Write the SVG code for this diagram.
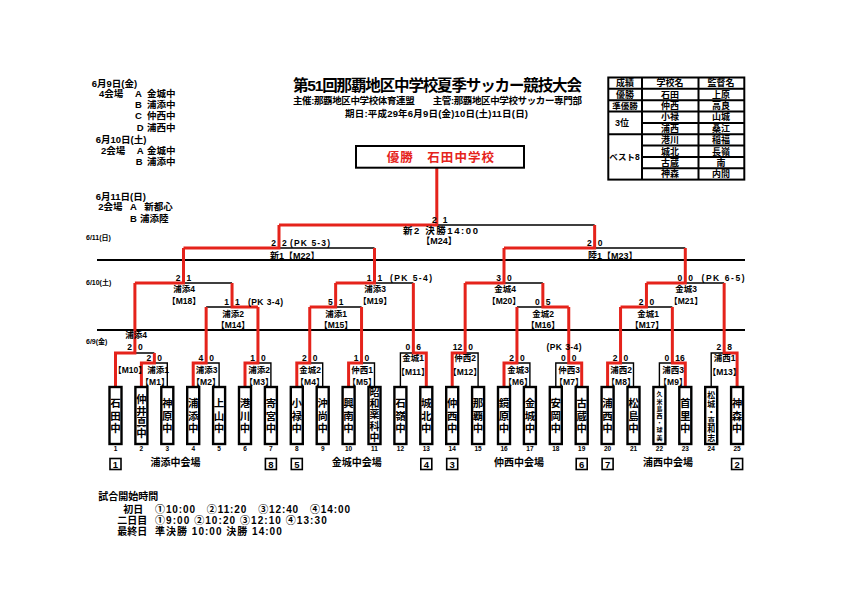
<svg xmlns="http://www.w3.org/2000/svg" width="842" height="595" viewBox="0 0 842 595">
<style>
.t{font-family:"Liberation Sans","Noto Sans CJK JP",sans-serif;font-weight:bold;fill:#000}
.k{fill:none;stroke:#000;stroke-width:1.4}
.r{fill:none;stroke:#e5231b;stroke-width:3}
.dl{stroke:#000;stroke-width:1.8}
.tb{fill:#fff;stroke:#000;stroke-width:2.4}
.vb{fill:#fff;stroke:#000;stroke-width:1.6}
.sc{font-size:8.5px}
.e{text-anchor:end}
.m{text-anchor:middle}
.lb{font-size:8.5px;text-anchor:middle}
.tn{font-size:10.5px;text-anchor:middle}
.tn5{font-size:10px;text-anchor:middle}
.tn6{font-size:8px;text-anchor:middle}
.tn7{font-size:6px;text-anchor:middle}
.ix{font-size:6.5px;text-anchor:middle}
.vn{font-size:9.5px;text-anchor:middle}
.dt{font-size:7px}
.hd{font-size:9.5px}
.tt{font-size:9px;text-anchor:middle}
.tl{fill:none;stroke:#000;stroke-width:2}
</style>
<rect width="842" height="595" fill="#fff"/>

<g id="title" class="t">
<text x="437.4" y="90.5" class="m" style="font-size:15.5px" textLength="289">第51回那覇地区中学校夏季サッカー競技大会</text>
<text x="437.4" y="104" class="m" style="font-size:9.5px" textLength="289">主催:那覇地区中学校体育連盟　　主管:那覇地区中学校サッカー専門部</text>
<text x="436.5" y="117" class="m" style="font-size:9.5px" textLength="183">期日:平成29年6月9日(金)10日(土)11日(日)</text>
</g>

<g id="schedule" class="t hd">
<text x="91.7" y="86.6">6月9日(金)</text>
<text x="99" y="97.3">4会場</text><text x="135" y="97.3">A</text><text x="175.5" y="97.3" class="e">金城中</text>
<text x="135" y="107.6">B</text><text x="175.5" y="107.6" class="e">浦添中</text>
<text x="135" y="119">C</text><text x="175.5" y="119" class="e">仲西中</text>
<text x="136.7" y="130.6">D</text><text x="175.5" y="130.6" class="e">浦西中</text>
<text x="95.7" y="143.3">6月10日(土)</text>
<text x="101" y="154">2会場</text><text x="136.7" y="154">A</text><text x="175.5" y="154" class="e">金城中</text>
<text x="135.7" y="165">B</text><text x="175.5" y="165" class="e">浦添中</text>
<text x="95.7" y="200">6月11日(日)</text>
<text x="98.3" y="210">2会場</text><text x="130" y="210">A</text><text x="144.3" y="210">新都心</text>
<text x="130" y="222.3">B</text><text x="140" y="222.3">浦添陸</text>
</g>

<g id="results" class="t">
<rect class="tl" x="608.3" y="77.5" width="136" height="102.1"/>
<path class="tl" d="M642,77.5V179.6M698.5,77.5V179.6M608.3,88.8H744.3M608.3,100.2H744.3M608.3,111.5H744.3M608.3,134.2H744.3M642,122.9H744.3M642,145.6H744.3M642,156.9H744.3M642,168.3H744.3"/>
<text class="tt" x="625" y="86.4">成績</text><text class="tt" x="670" y="86.4">学校名</text><text class="tt" x="721" y="86.4">監督名</text>
<text class="tt" x="625" y="97.7">優勝</text><text class="tt" x="670" y="97.7">石田</text><text class="tt" x="721" y="97.7">上原</text>
<text class="tt" x="625" y="109" style="font-size:8.5px">準優勝</text><text class="tt" x="670" y="109">仲西</text><text class="tt" x="721" y="109">高良</text>
<text class="tt" x="622" y="126">3位</text><text class="tt" x="670" y="120.4">小禄</text><text class="tt" x="721" y="120.4">山城</text>
<text class="tt" x="670" y="131.8">浦西</text><text class="tt" x="721" y="131.8">桑江</text>
<text class="tt" x="624.5" y="160" style="font-size:8.5px">ベスト8</text>
<text class="tt" x="670" y="143.1">港川</text><text class="tt" x="721" y="143.1">稲福</text>
<text class="tt" x="670" y="154.5">城北</text><text class="tt" x="721" y="154.5">長嶺</text>
<text class="tt" x="670" y="165.8">古蔵</text><text class="tt" x="721" y="165.8">南</text>
<text class="tt" x="670" y="177.2">神森</text><text class="tt" x="721" y="177.2">内間</text>
</g>

<g id="dates" class="t dt">
<line class="dl" x1="97" y1="260" x2="745" y2="260"/>
<line class="dl" x1="97" y1="330" x2="745" y2="330"/>
<text x="86" y="239.5">6/11(日)</text>
<text x="86" y="284.5">6/10(土)</text>
<text x="86" y="343.5">6/9(金)</text>
</g>

<g id="connectors">
<path class="k" d="M167.3,386V363H154.35M154.35,353H134.9M219.1,386V363H206.15M270.9,386V363H257.95M206.15,307H232.05M232.05,283H183.5M322.7,386V363H309.75M374.5,386V363H361.55M361.55,307H335.65M400.4,386V353H413.35M413.35,283H374.5M374.5,248H279M478.1,386V353H465.15M529.9,386V363H516.95M555.8,386V363H568.75M516.95,307H542.85M542.85,283H504M633.5,386V363H620.55M659.4,386V363H672.35M672.35,307H646.45M711.2,386V353H724.15M724.15,283H685.3M685.3,248H594.65M594.65,225H436.8"/>
<path class="r" d="M141.4,386V363H154.35V353M115.5,386V353H134.9V283M193.2,386V363H206.15V307M245,386V363H257.95V307M257.95,307H232.05V283M134.9,283H183.5V248M296.8,386V363H309.75V307M348.6,386V363H361.55V307M309.75,307H335.65V283M426.3,386V353H413.35V283M335.65,283H374.5V248M183.5,248H279V225M452.2,386V353H465.15V283M504,386V363H516.95V307M581.7,386V363H568.75V307M568.75,307H542.85V283M465.15,283H504V248M607.6,386V363H620.55V307M685.3,386V363H672.35V307M620.55,307H646.45V283M737.1,386V353H724.15V283M646.45,283H685.3V248M504,248H594.65V225M279,225H436.8V168"/>
</g>

<g id="champion" class="t">
<rect x="356" y="146" width="168" height="21.7" fill="#fff" stroke="#000" stroke-width="2"/>
<text x="386.7" y="161.5" style="font-size:12.5px;fill:#e5231b" textLength="107.3">優勝　石田中学校</text>
</g>

<g class="t">
<g id="m1"><text class="sc e" x="151.35" y="360.5">2</text><text class="sc" x="157.35" y="360.5">0</text><text class="lb" x="158" y="373">浦添1</text><text class="lb" x="155" y="384.5">【M1】</text></g>
<g id="m2"><text class="sc e" x="203.15" y="360.5">4</text><text class="sc" x="209.15" y="360.5">0</text><text class="lb" x="206.5" y="373">浦添3</text><text class="lb" x="206" y="384.5">【M2】</text></g>
<g id="m3"><text class="sc e" x="254.95" y="360.5">1</text><text class="sc" x="260.95" y="360.5">0</text><text class="lb" x="259" y="373">浦添2</text><text class="lb" x="259" y="384.5">【M3】</text></g>
<g id="m4"><text class="sc e" x="306.75" y="360.5">2</text><text class="sc" x="312.75" y="360.5">0</text><text class="lb" x="310" y="373">金城2</text><text class="lb" x="310" y="384.5">【M4】</text></g>
<g id="m5"><text class="sc e" x="358.55" y="360.5">1</text><text class="sc" x="364.55" y="360.5">0</text><text class="lb" x="362" y="373">仲西1</text><text class="lb" x="362" y="384.5">【M5】</text></g>
<g id="m6"><text class="sc e" x="513.95" y="360.5">2</text><text class="sc" x="519.95" y="360.5">0</text><text class="lb" x="518" y="373">金城3</text><text class="lb" x="518" y="384.5">【M6】</text></g>
<g id="m7"><text class="sc e" x="565.75" y="360.5">0</text><text class="sc" x="571.75" y="360.5">0</text><text class="sc m" x="564" y="349.5" textLength="35">(PK 3-4)</text><text class="lb" x="569" y="373">仲西3</text><text class="lb" x="569" y="384.5">【M7】</text></g>
<g id="m8"><text class="sc e" x="617.55" y="360.5">2</text><text class="sc" x="623.55" y="360.5">0</text><text class="lb" x="621" y="373">浦西2</text><text class="lb" x="621" y="384.5">【M8】</text></g>
<g id="m9"><text class="sc e" x="669.35" y="360.5">0</text><text class="sc" x="675.35" y="360.5">16</text><text class="lb" x="673" y="373">浦西3</text><text class="lb" x="673" y="384.5">【M9】</text></g>
<g id="m10"><text class="sc e" x="131.9" y="350">2</text><text class="sc" x="137.9" y="350">0</text><text class="lb" x="136" y="337.5">浦添4</text><text class="lb" x="130" y="373">【M10】</text></g>
<g id="m11"><text class="sc e" x="410.35" y="350">0</text><text class="sc" x="416.35" y="350">6</text><text class="lb" x="413" y="360.5">金城1</text><text class="lb" x="413" y="375">【M11】</text></g>
<g id="m12"><text class="sc e" x="462.15" y="350">12</text><text class="sc" x="468.15" y="350">0</text><text class="lb" x="465" y="360.5">仲西2</text><text class="lb" x="465" y="375">【M12】</text></g>
<g id="m13"><text class="sc e" x="721.15" y="350">2</text><text class="sc" x="727.15" y="350">8</text><text class="lb" x="724.5" y="360.5">浦西1</text><text class="lb" x="724.5" y="375">【M13】</text></g>
<g id="m14"><text class="sc e" x="229.05" y="304.5">1</text><text class="sc" x="235.05" y="304.5">1</text><text class="sc" x="248" y="304.5" textLength="35">(PK 3-4)</text><text class="lb" x="233" y="316.5">浦添2</text><text class="lb" x="233" y="327.5">【M14】</text></g>
<g id="m15"><text class="sc e" x="332.65" y="304.5">5</text><text class="sc" x="338.65" y="304.5">1</text><text class="lb" x="336" y="316.5">浦添1</text><text class="lb" x="336" y="327.5">【M15】</text></g>
<g id="m16"><text class="sc e" x="539.85" y="304.5">0</text><text class="sc" x="545.85" y="304.5">5</text><text class="lb" x="543" y="316.5">金城2</text><text class="lb" x="543" y="327.5">【M16】</text></g>
<g id="m17"><text class="sc e" x="643.45" y="304.5">2</text><text class="sc" x="649.45" y="304.5">0</text><text class="lb" x="648" y="316.5">金城1</text><text class="lb" x="647" y="327.5">【M17】</text></g>
<g id="m18"><text class="sc e" x="180.5" y="280.5">2</text><text class="sc" x="186.5" y="280.5">1</text><text class="lb" x="184" y="291.5">浦添4</text><text class="lb" x="184" y="304">【M18】</text></g>
<g id="m19"><text class="sc e" x="371.5" y="280.5">1</text><text class="sc" x="377.5" y="280.5">1</text><text class="sc" x="390" y="280.5" textLength="42">(PK 5-4)</text><text class="lb" x="375" y="291.5">浦添3</text><text class="lb" x="375" y="304">【M19】</text></g>
<g id="m20"><text class="sc e" x="501" y="280.5">3</text><text class="sc" x="507" y="280.5">0</text><text class="lb" x="505" y="291.5">金城4</text><text class="lb" x="504" y="304">【M20】</text></g>
<g id="m21"><text class="sc e" x="682.3" y="280.5">0</text><text class="sc" x="688.3" y="280.5">0</text><text class="sc" x="701.5" y="280.5" textLength="43">(PK 6-5)</text><text class="lb" x="686" y="291.5">金城3</text><text class="lb" x="686" y="304">【M21】</text></g>
<g id="m22"><text class="sc e" x="276" y="245.5">2</text><text class="sc" x="282" y="245.5">2</text><text class="sc" x="290" y="245.5" textLength="40">(PK 5-3)</text><text x="270" y="258.5" style="font-size:9px">新1【M22】</text></g>
<g id="m23"><text class="sc e" x="591.65" y="245.5">2</text><text class="sc" x="597.65" y="245.5">0</text><text x="588" y="258.5" style="font-size:9px">陸1【M23】</text></g>
<g id="m24"><text class="sc e" x="436.8" y="222.5">2</text><text class="sc" x="442.8" y="222.5">1</text><text x="403" y="234" style="font-size:9.5px" textLength="75">新2 決勝14:00</text><text x="439" y="243.5" style="font-size:9px;text-anchor:middle">【M24】</text></g>
</g>

<g class="t">
<g id="t1"><rect class="tb" x="109.5" y="387" width="12" height="57"/><text class="tn" x="115.5"><tspan x="115.5" y="407.2">石</tspan><tspan x="115.5" y="419.8">田</tspan><tspan x="115.5" y="432.4">中</tspan></text><text class="ix" x="115.5" y="451">1</text></g>
<g id="t2"><rect class="tb" x="135.4" y="387" width="12" height="57"/><text class="tn" x="141.4"><tspan x="141.4" y="403.3">仲</tspan><tspan x="141.4" y="414.6">井</tspan><tspan x="141.4" y="425.9">真</tspan><tspan x="141.4" y="437.2">中</tspan></text><text class="ix" x="141.4" y="451">2</text></g>
<g id="t3"><rect class="tb" x="161.3" y="387" width="12" height="57"/><text class="tn" x="167.3"><tspan x="167.3" y="407.2">神</tspan><tspan x="167.3" y="419.8">原</tspan><tspan x="167.3" y="432.4">中</tspan></text><text class="ix" x="167.3" y="451">3</text></g>
<g id="t4"><rect class="tb" x="187.2" y="387" width="12" height="57"/><text class="tn" x="193.2"><tspan x="193.2" y="407.2">浦</tspan><tspan x="193.2" y="419.8">添</tspan><tspan x="193.2" y="432.4">中</tspan></text><text class="ix" x="193.2" y="451">4</text></g>
<g id="t5"><rect class="tb" x="213.1" y="387" width="12" height="57"/><text class="tn" x="219.1"><tspan x="219.1" y="407.2">上</tspan><tspan x="219.1" y="419.8">山</tspan><tspan x="219.1" y="432.4">中</tspan></text><text class="ix" x="219.1" y="451">5</text></g>
<g id="t6"><rect class="tb" x="239" y="387" width="12" height="57"/><text class="tn" x="245"><tspan x="245" y="407.2">港</tspan><tspan x="245" y="419.8">川</tspan><tspan x="245" y="432.4">中</tspan></text><text class="ix" x="245" y="451">6</text></g>
<g id="t7"><rect class="tb" x="264.9" y="387" width="12" height="57"/><text class="tn" x="270.9"><tspan x="270.9" y="407.2">寄</tspan><tspan x="270.9" y="419.8">宮</tspan><tspan x="270.9" y="432.4">中</tspan></text><text class="ix" x="270.9" y="451">7</text></g>
<g id="t8"><rect class="tb" x="290.8" y="387" width="12" height="57"/><text class="tn" x="296.8"><tspan x="296.8" y="407.2">小</tspan><tspan x="296.8" y="419.8">禄</tspan><tspan x="296.8" y="432.4">中</tspan></text><text class="ix" x="296.8" y="451">8</text></g>
<g id="t9"><rect class="tb" x="316.7" y="387" width="12" height="57"/><text class="tn" x="322.7"><tspan x="322.7" y="407.2">沖</tspan><tspan x="322.7" y="419.8">尚</tspan><tspan x="322.7" y="432.4">中</tspan></text><text class="ix" x="322.7" y="451">9</text></g>
<g id="t10"><rect class="tb" x="342.6" y="387" width="12" height="57"/><text class="tn" x="348.6"><tspan x="348.6" y="407.2">興</tspan><tspan x="348.6" y="419.8">南</tspan><tspan x="348.6" y="432.4">中</tspan></text><text class="ix" x="348.6" y="451">10</text></g>
<g id="t11"><rect class="tb" x="368.5" y="387" width="12" height="57"/><text class="tn5" x="374.5"><tspan x="374.5" y="395.6">昭</tspan><tspan x="374.5" y="407">和</tspan><tspan x="374.5" y="418.4">薬</tspan><tspan x="374.5" y="429.8">科</tspan><tspan x="374.5" y="441.2">中</tspan></text><text class="ix" x="374.5" y="451">11</text></g>
<g id="t12"><rect class="tb" x="394.4" y="387" width="12" height="57"/><text class="tn" x="400.4"><tspan x="400.4" y="407.2">石</tspan><tspan x="400.4" y="419.8">嶺</tspan><tspan x="400.4" y="432.4">中</tspan></text><text class="ix" x="400.4" y="451">12</text></g>
<g id="t13"><rect class="tb" x="420.3" y="387" width="12" height="57"/><text class="tn" x="426.3"><tspan x="426.3" y="407.2">城</tspan><tspan x="426.3" y="419.8">北</tspan><tspan x="426.3" y="432.4">中</tspan></text><text class="ix" x="426.3" y="451">13</text></g>
<g id="t14"><rect class="tb" x="446.2" y="387" width="12" height="57"/><text class="tn" x="452.2"><tspan x="452.2" y="407.2">仲</tspan><tspan x="452.2" y="419.8">西</tspan><tspan x="452.2" y="432.4">中</tspan></text><text class="ix" x="452.2" y="451">14</text></g>
<g id="t15"><rect class="tb" x="472.1" y="387" width="12" height="57"/><text class="tn" x="478.1"><tspan x="478.1" y="407.2">那</tspan><tspan x="478.1" y="419.8">覇</tspan><tspan x="478.1" y="432.4">中</tspan></text><text class="ix" x="478.1" y="451">15</text></g>
<g id="t16"><rect class="tb" x="498" y="387" width="12" height="57"/><text class="tn" x="504"><tspan x="504" y="407.2">鏡</tspan><tspan x="504" y="419.8">原</tspan><tspan x="504" y="432.4">中</tspan></text><text class="ix" x="504" y="451">16</text></g>
<g id="t17"><rect class="tb" x="523.9" y="387" width="12" height="57"/><text class="tn" x="529.9"><tspan x="529.9" y="407.2">金</tspan><tspan x="529.9" y="419.8">城</tspan><tspan x="529.9" y="432.4">中</tspan></text><text class="ix" x="529.9" y="451">17</text></g>
<g id="t18"><rect class="tb" x="549.8" y="387" width="12" height="57"/><text class="tn" x="555.8"><tspan x="555.8" y="407.2">安</tspan><tspan x="555.8" y="419.8">岡</tspan><tspan x="555.8" y="432.4">中</tspan></text><text class="ix" x="555.8" y="451">18</text></g>
<g id="t19"><rect class="tb" x="575.7" y="387" width="12" height="57"/><text class="tn" x="581.7"><tspan x="581.7" y="407.2">古</tspan><tspan x="581.7" y="419.8">蔵</tspan><tspan x="581.7" y="432.4">中</tspan></text><text class="ix" x="581.7" y="451">19</text></g>
<g id="t20"><rect class="tb" x="601.6" y="387" width="12" height="57"/><text class="tn" x="607.6"><tspan x="607.6" y="407.2">浦</tspan><tspan x="607.6" y="419.8">西</tspan><tspan x="607.6" y="432.4">中</tspan></text><text class="ix" x="607.6" y="451">20</text></g>
<g id="t21"><rect class="tb" x="627.5" y="387" width="12" height="57"/><text class="tn" x="633.5"><tspan x="633.5" y="407.2">松</tspan><tspan x="633.5" y="419.8">島</tspan><tspan x="633.5" y="432.4">中</tspan></text><text class="ix" x="633.5" y="451">21</text></g>
<g id="t22"><rect class="tb" x="653.4" y="387" width="12" height="57"/><text class="tn7" x="659.4"><tspan x="659.4" y="396.4">久</tspan><tspan x="659.4" y="403.6">米</tspan><tspan x="659.4" y="410.8">島</tspan><tspan x="659.4" y="418">西</tspan><tspan x="659.4" y="425.2">・</tspan><tspan x="659.4" y="432.4">球</tspan><tspan x="659.4" y="439.6">美</tspan></text><text class="ix" x="659.4" y="451">22</text></g>
<g id="t23"><rect class="tb" x="679.3" y="387" width="12" height="57"/><text class="tn" x="685.3"><tspan x="685.3" y="407.2">首</tspan><tspan x="685.3" y="419.8">里</tspan><tspan x="685.3" y="432.4">中</tspan></text><text class="ix" x="685.3" y="451">23</text></g>
<g id="t24"><rect class="tb" x="705.2" y="387" width="12" height="57"/><text class="tn6" x="711.2"><tspan x="711.2" y="397.9">松</tspan><tspan x="711.2" y="406.5">城</tspan><tspan x="711.2" y="415.1">・</tspan><tspan x="711.2" y="423.7">真</tspan><tspan x="711.2" y="432.3">和</tspan><tspan x="711.2" y="440.9">志</tspan></text><text class="ix" x="711.2" y="451">24</text></g>
<g id="t25"><rect class="tb" x="731.1" y="387" width="12" height="57"/><text class="tn" x="737.1"><tspan x="737.1" y="407.2">神</tspan><tspan x="737.1" y="419.8">森</tspan><tspan x="737.1" y="432.4">中</tspan></text><text class="ix" x="737.1" y="451">25</text></g>
</g>

<g id="venues" class="t">
<rect class="vb" x="110" y="458.5" width="11" height="11"/><text class="vn" x="115.5" y="467.6">1</text>
<rect class="vb" x="265.4" y="458.5" width="11" height="11"/><text class="vn" x="270.9" y="467.6">8</text>
<rect class="vb" x="291.3" y="458.5" width="11" height="11"/><text class="vn" x="296.8" y="467.6">5</text>
<rect class="vb" x="420.8" y="458.5" width="11" height="11"/><text class="vn" x="426.3" y="467.6">4</text>
<rect class="vb" x="446.7" y="458.5" width="11" height="11"/><text class="vn" x="452.2" y="467.6">3</text>
<rect class="vb" x="576.2" y="458.5" width="11" height="11"/><text class="vn" x="581.7" y="467.6">6</text>
<rect class="vb" x="602.1" y="458.5" width="11" height="11"/><text class="vn" x="607.6" y="467.6">7</text>
<rect class="vb" x="731.6" y="458.5" width="11" height="11"/><text class="vn" x="737.1" y="467.6">2</text>
<text class="m" x="175.5" y="466" style="font-size:10px">浦添中会場</text>
<text class="m" x="356.7" y="466" style="font-size:10px">金城中会場</text>
<text class="m" x="519" y="466" style="font-size:10px">仲西中会場</text>
<text class="m" x="668" y="466" style="font-size:10px">浦西中会場</text>
</g>

<g id="times" class="t" style="font-size:10px">
<text x="98.3" y="500">試合開始時間</text>
<text x="123.3" y="512.8">初日</text><text x="155" y="512.8" textLength="195">①10:00　②11:20　③12:40　④14:00</text>
<text x="117.3" y="523.8">二日目</text><text x="155" y="523.8" textLength="171.7">①9:00 ②10:20 ③12:10 ④13:30</text>
<text x="117.3" y="535.2">最終日</text><text x="155" y="535.2" textLength="126.7">準決勝 10:00 決勝 14:00</text>
</g>
</svg>
